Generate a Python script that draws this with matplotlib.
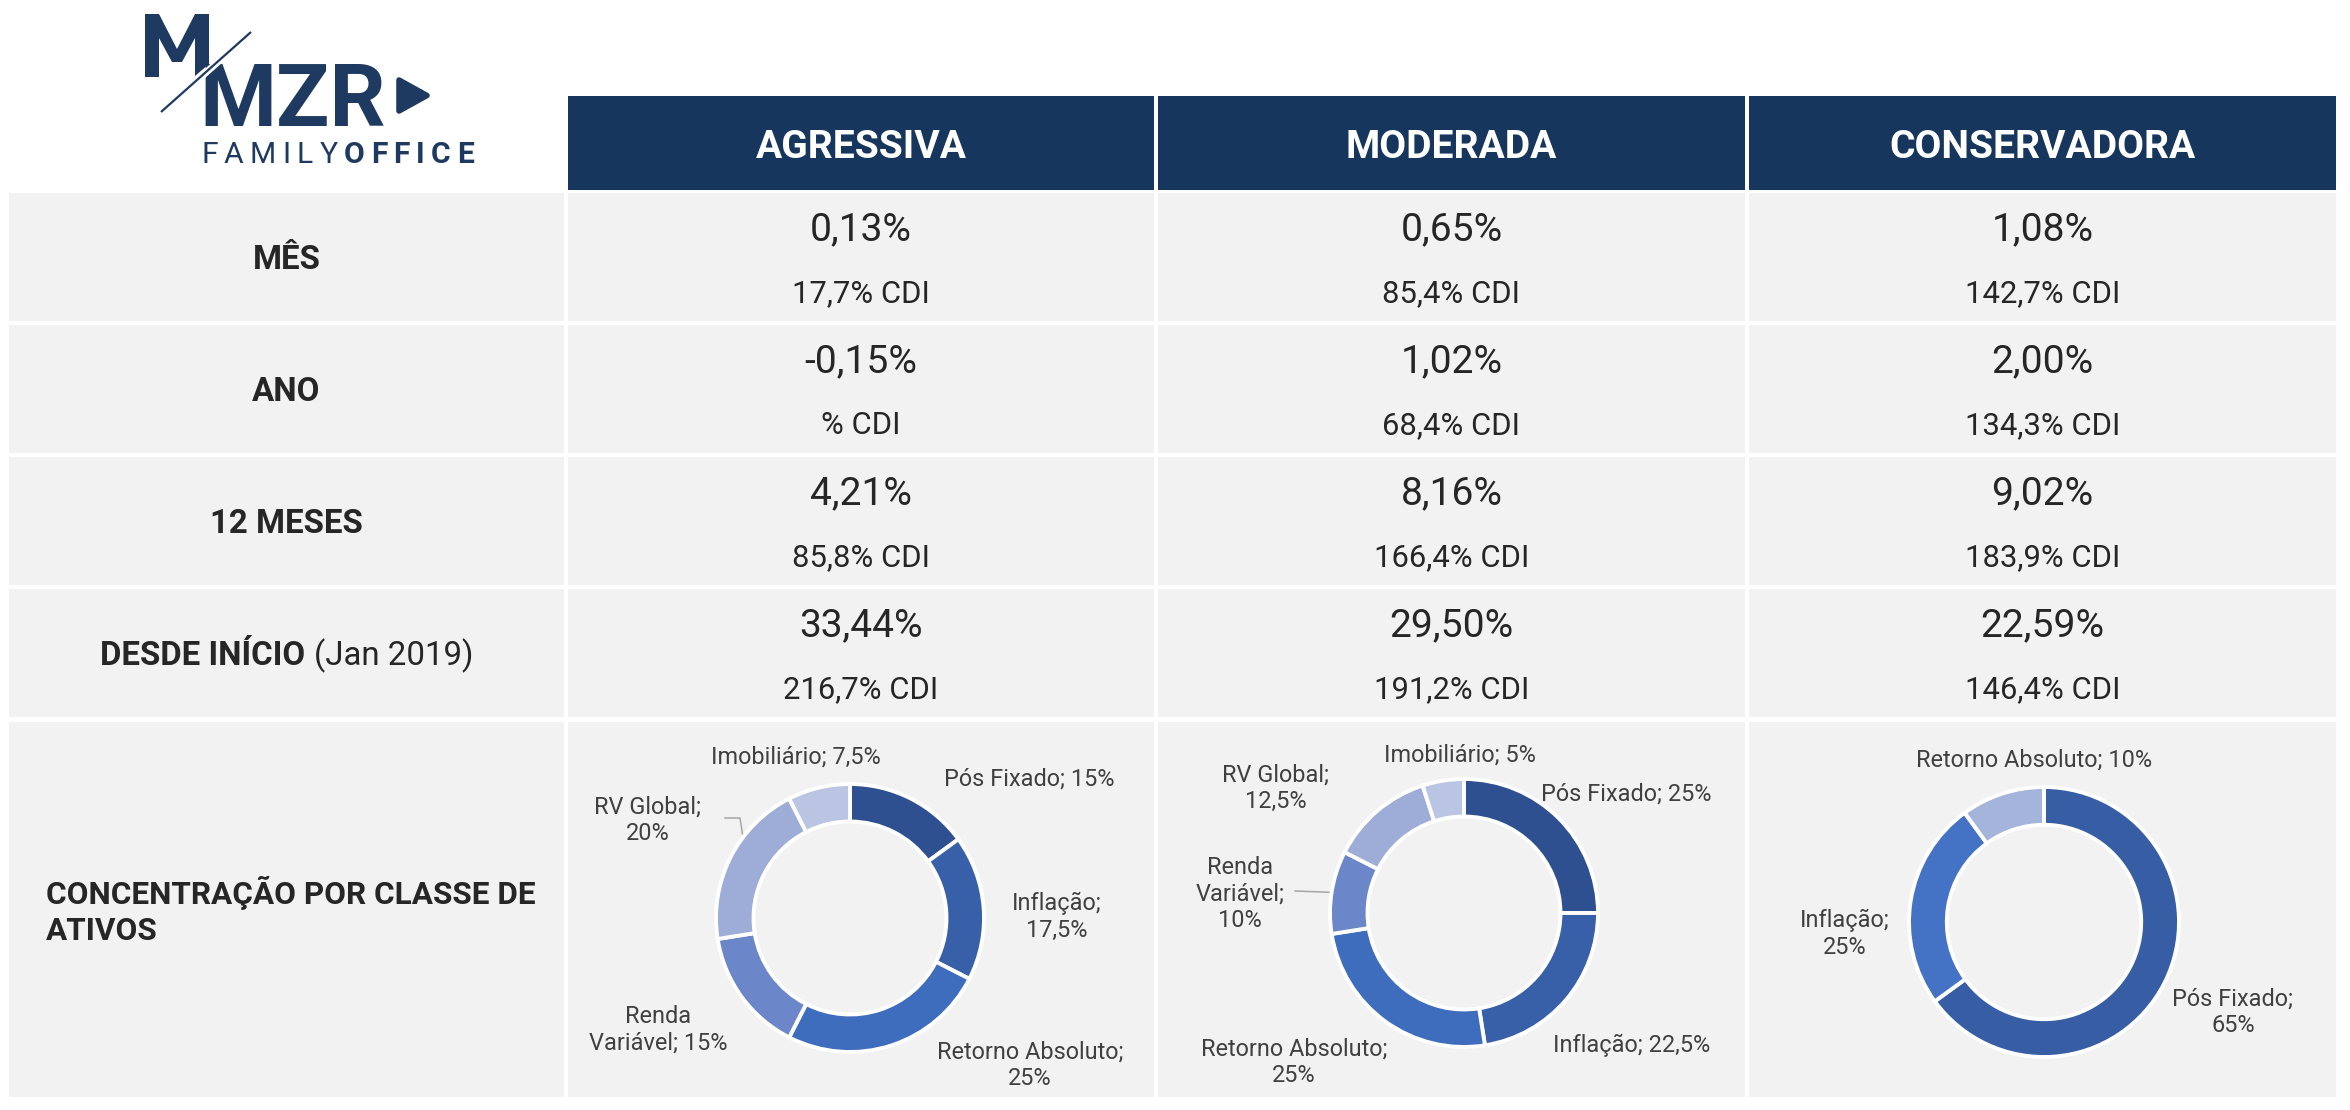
import matplotlib
matplotlib.use("Agg")
import matplotlib.pyplot as plt
from matplotlib.patches import Rectangle, Polygon

# ---------------- data ----------------
profiles = ["AGRESSIVA", "MODERADA", "CONSERVADORA"]
row_labels = ["MÊS", "ANO", "12 MESES", "DESDE INÍCIO"]
row_label_suffix = ["", "", "", "(Jan 2019)"]
conc_label = "CONCENTRAÇÃO POR CLASSE DE\nATIVOS"

ret_mes = [0.13, 0.65, 1.08]
ret_ano = [-0.15, 1.02, 2.00]
ret_12m = [4.21, 8.16, 9.02]
ret_ini = [33.44, 29.50, 22.59]

cdi_mes = [17.7, 85.4, 142.7]
cdi_ano = [None, 68.4, 134.3]
cdi_12m = [85.8, 166.4, 183.9]
cdi_ini = [216.7, 191.2, 146.4]

agr_classes = ["Pós Fixado", "Inflação", "Retorno Absoluto", "Renda Variável", "RV Global", "Imobiliário"]
agr_weights = [15, 17.5, 25, 15, 20, 7.5]
mod_classes = ["Pós Fixado", "Inflação", "Retorno Absoluto", "Renda Variável", "RV Global", "Imobiliário"]
mod_weights = [25, 22.5, 25, 10, 12.5, 5]
con_classes = ["Pós Fixado", "Inflação", "Retorno Absoluto"]
con_weights = [65, 25, 10]

# ---------------- style / layout ----------------
W, H = 2350, 1110
NAVY = "#17365D"
LOGO = "#1F3A60"
CELL = "#F2F2F2"
TXT = "#262626"
LBL = "#404040"
FONT = "Roboto"

agr_colors = ["#2E5090", "#3760A8", "#3F6DBE", "#6B87C9", "#9EADD8", "#BAC5E4"]
mod_colors = ["#2E5090", "#3760A8", "#3F6DBE", "#6B87C9", "#9EADD8", "#BAC5E4"]
con_colors = ["#375EA4", "#4472C4", "#A5B4DB"]

def pt(px_em):
    return px_em * 0.72

fig = plt.figure(figsize=(W / 100, H / 100), dpi=100)
fig.patch.set_facecolor("white")
ax = fig.add_axes([0, 0, 1, 1])
ax.set_xlim(0, W)
ax.set_ylim(H, 0)
ax.axis("off")
renderer = fig.canvas.get_renderer()

col_x = [(9, 564), (568, 1154), (1158, 1745), (1749, 2336)]
head_y = (96, 190)
row_tops = [193, 325, 457, 589]
row_h = 128
conc_y = (722, 1097)

def fmt_num(v, d):
    return f"{v:.{d}f}".replace(".", ",")

def fmt_w(w):
    return str(int(w)) if float(w).is_integer() else str(w).replace(".", ",")

# header
for i, p in enumerate(profiles):
    x0, x1 = col_x[i + 1]
    ax.add_patch(Rectangle((x0, head_y[0]), x1 - x0, head_y[1] - head_y[0],
                           facecolor=NAVY, edgecolor="none"))
    ax.text((x0 + x1) / 2, 158, p, ha="center", va="baseline", color="white",
            fontsize=pt(39), fontweight="bold", family=FONT)

# body rows
rets = [ret_mes, ret_ano, ret_12m, ret_ini]
cdis = [cdi_mes, cdi_ano, cdi_12m, cdi_ini]
for r, top in enumerate(row_tops):
    for c in range(4):
        x0, x1 = col_x[c]
        ax.add_patch(Rectangle((x0, top), x1 - x0, row_h, facecolor=CELL, edgecolor="none"))
    lx0, lx1 = col_x[0]
    cx = (lx0 + lx1) / 2
    base = top + 76
    if row_label_suffix[r]:
        t1 = ax.text(0, base, row_labels[r], ha="left", va="baseline", color=TXT,
                     fontsize=pt(33), fontweight="bold", family=FONT)
        t2 = ax.text(0, base, row_label_suffix[r], ha="left", va="baseline", color=TXT,
                     fontsize=pt(33), fontweight="normal", family=FONT)
        w1 = t1.get_window_extent(renderer).width
        w2 = t2.get_window_extent(renderer).width
        gap = 9
        start = cx - (w1 + gap + w2) / 2
        t1.set_x(start)
        t2.set_x(start + w1 + gap)
    else:
        ax.text(cx, base, row_labels[r], ha="center", va="baseline", color=TXT,
                fontsize=pt(33), fontweight="bold", family=FONT)
    for c in range(3):
        x0, x1 = col_x[c + 1]
        mx = (x0 + x1) / 2
        ax.text(mx, top + 47, fmt_num(rets[r][c], 2) + "%", ha="center", va="baseline",
                color=TXT, fontsize=pt(39), family=FONT)
        cv = cdis[r][c]
        s = ("% CDI" if cv is None else fmt_num(cv, 1) + "% CDI")
        ax.text(mx, top + 109, s, ha="center", va="baseline", color=TXT,
                fontsize=pt(31), family=FONT)

# concentration row
for c in range(4):
    x0, x1 = col_x[c]
    ax.add_patch(Rectangle((x0, conc_y[0]), x1 - x0, conc_y[1] - conc_y[0],
                           facecolor=CELL, edgecolor="none"))
ax.text((col_x[0][0] + col_x[0][1]) / 2 + 4, 911, conc_label, ha="center", va="center",
        multialignment="left", color=TXT, fontsize=pt(31.5), fontweight="bold",
        family=FONT, linespacing=1.25)

# donuts
charts = [
    dict(classes=agr_classes, weights=agr_weights, colors=agr_colors, c=(850, 918), R=134,
         labels=[(1029, 777, []), (1057, 915, [0]), (1030, 1063, [1]),
                 (658, 1028, [0]), (648, 818, [1]), (796, 755, [])],
         leaders=[[(725, 818), (740, 818), (747, 863)]]),
    dict(classes=mod_classes, weights=mod_weights, colors=mod_colors, c=(1464, 913), R=134,
         labels=[(1626, 792, []), (1632, 1043, []), (1294, 1060, [1]),
                 (1240, 892, [0, 1]), (1276, 786, [1]), (1460, 753, [])],
         leaders=[[(1295, 891), (1349, 893)]]),
    dict(classes=con_classes, weights=con_weights, colors=con_colors, c=(2044, 922), R=135,
         labels=[(2233, 1010, [1]), (1845, 932, [0]), (2034, 758, [])],
         leaders=[]),
]

for ch in charts:
    cx, cy = ch["c"]
    R = ch["R"]
    pax = fig.add_axes([(cx - R) / W, 1 - (cy + R) / H, 2 * R / W, 2 * R / H])
    pax.pie(ch["weights"], colors=ch["colors"], startangle=90, counterclock=False,
            radius=1.0, wedgeprops=dict(width=0.28, edgecolor="white", linewidth=2.8))
    pax.set_xlim(-1, 1)
    pax.set_ylim(-1, 1)
    pax.set_aspect("equal")
    pax.axis("off")
    for (name, w, (lx, ly, brk)) in zip(ch["classes"], ch["weights"], ch["labels"]):
        full = f"{name}; {fmt_w(w)}%"
        parts = full.split(" ")
        s = parts[0]
        for k, ptxt in enumerate(parts[1:]):
            s += ("\n" if k in brk else " ") + ptxt
        ax.text(lx, ly + 2, s, ha="center", va="center", multialignment="center",
                color=LBL, fontsize=pt(23.5), family=FONT, linespacing=1.2, zorder=5)
    for ld in ch["leaders"]:
        xs = [p[0] for p in ld]
        ys = [p[1] for p in ld]
        ax.plot(xs, ys, color="#A6A6A6", lw=1.1, zorder=4)

# ---------------- logo ----------------
# small "M" mark (graphic), cut by the slash
m_mark = [(145, 77), (145, 14), (159, 14), (177, 49), (195, 14), (209, 14),
          (209, 64), (195, 76), (195, 38), (182, 62), (172, 62), (159, 38), (159, 77)]
ax.add_patch(Polygon(m_mark, closed=True, facecolor=LOGO, edgecolor="none", zorder=6))
tm = ax.text(199, 126, "MZR", ha="left", va="baseline", color=LOGO, fontsize=pt(88),
             fontweight="bold", family=FONT, zorder=6)
ax.plot([158, 254], [115, 30], color="white", lw=5, solid_capstyle="butt", zorder=7)
ax.plot([161, 251], [112, 32], color=LOGO, lw=1.6, solid_capstyle="butt", zorder=8)
ax.add_patch(Polygon([(399, 80), (399, 111), (427, 95.5)], closed=True,
                     facecolor=LOGO, edgecolor=LOGO, lw=4, joinstyle="round", zorder=6))

fam = "FAMILYOFFICE"
letters = []
for i, chr_ in enumerate(fam):
    t = ax.text(0, 163, chr_, ha="left", va="baseline", color=LOGO, fontsize=pt(30),
                fontweight=("normal" if i < 6 else "bold"), family=FONT, zorder=6)
    letters.append(t)
widths = [t.get_window_extent(renderer).width for t in letters]
total = 474 - 201
track = (total - sum(widths)) / (len(fam) - 1)
x = 201
for t, w in zip(letters, widths):
    t.set_x(x)
    x += w + track

fig.savefig("out.png", dpi=100, facecolor="white")
